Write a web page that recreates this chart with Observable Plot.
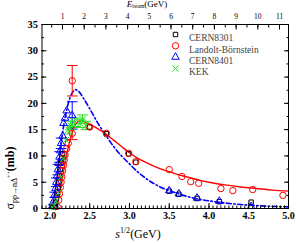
<!DOCTYPE html>
<html><head><meta charset="utf-8">
<script src="https://cdn.jsdelivr.net/npm/d3@7"></script>
<script src="https://cdn.jsdelivr.net/npm/@observablehq/plot@0.6"></script>
<style>
body{margin:0;background:#fff;}
#chart{width:296px;height:243px;overflow:hidden;}
</style>
</head><body><div id="chart"></div>
<script>
// ---- data (sqrt(s) in GeV, sigma in mb, optional error) ----
const cern8301 = [[2.06,0.3],[2.07,1.0],[2.08,2.0],[2.09,3.0],[2.10,4.0],[2.11,5.0],[2.12,6.2],[2.13,7.4],[2.14,8.6],[2.15,9.6],[2.16,10.4],[2.50,15.5],[2.71,14.2],[2.99,10.4],[3.08,8.8],[3.50,3.3],[3.62,2.7],[3.85,1.9],[4.13,1.3],[4.53,1.2]];
const landolt = [[2.09,0.4],[2.11,1.6],[2.12,2.8],[2.13,4.0],[2.14,5.0],[2.15,6.0],[2.16,7.2],[2.17,8.2],[2.18,9.2],[2.19,10.2],[2.21,11.4],[2.23,12.4],[2.28,14.3,1.2],[2.28,24.3,2.9],[2.50,15.5],[2.71,14.3],[2.99,10.5],[3.08,8.9],[3.50,7.4],[3.66,6.1],[3.77,5.1],[3.87,4.8],[4.15,3.8],[4.30,3.4],[4.55,3.6],[4.93,2.5]];
const cern8401 = [[2.04,0.4,0.3],[2.05,1.5],[2.06,2.6,0.5],[2.07,3.8],[2.08,5.0,0.8],[2.09,6.2],[2.10,7.4,1],[2.11,8.6],[2.12,9.8,1],[2.13,11.0],[2.14,12.4,1],[2.16,13.8],[2.17,16.2],[2.19,17.2],[2.21,18.6],[2.28,17.7,2.6],[3.50,3.4],[3.62,2.8],[3.85,2.0],[4.13,1.4],[4.53,0.4]];
const kek = [[2.03,0.2],[2.05,0.6],[2.08,1.4],[2.11,3.0],[2.14,6.0],[2.17,9.5],[2.20,13.0],[2.23,15.0,0.8],[2.26,15.8,0.8],[2.31,16.4,0.8],[2.38,16.2,0.8],[2.41,17.0,0.8],[2.45,15.8,0.8]];
// model curves
const redCurve = [[2.08,0],[2.12,2.5],[2.16,6.0],[2.20,9.5],[2.24,12.3],[2.28,14.5],[2.32,16.0],[2.36,16.6],[2.42,16.6],[2.50,16.0],[2.60,15.2],[2.70,14.2],[2.80,13.0],[2.90,11.8],[3.00,10.6],[3.10,9.6],[3.20,8.8],[3.30,8.1],[3.40,7.5],[3.50,7.0],[3.60,6.5],[3.70,6.1],[3.80,5.7],[3.90,5.3],[4.00,5.0],[4.20,4.5],[4.40,4.1],[4.60,3.8],[4.80,3.5],[5.00,3.3]];
const blueCurve = [[2.02,0],[2.05,2.0],[2.08,5.0],[2.11,9.0],[2.14,12.5],[2.17,15.5],[2.20,18.0],[2.24,20.5],[2.28,22.0],[2.32,22.6],[2.36,22.3],[2.42,21.0],[2.50,19.0],[2.60,16.3],[2.70,14.0],[2.80,11.8],[2.90,10.0],[3.00,8.5],[3.10,7.0],[3.20,5.8],[3.30,4.8],[3.40,4.0],[3.50,3.4],[3.60,2.9],[3.70,2.4],[3.80,2.0],[3.90,1.7],[4.00,1.45],[4.20,1.05],[4.40,0.75],[4.60,0.55],[4.80,0.4],[5.00,0.3]];
// axes
const xDomain = [1.9, 5.0];
const yDomain = [0, 35];
const xMajor = [2.0,2.5,3.0,3.5,4.0,4.5,5.0];
const yMajor = [0,5,10,15,20,25,30,35];
const eMajor = [1,2,3,4,5,6,7,8,9,10,11];
const eBeamAtSqrtS = [[1,2.158],[11,4.887]]; // top-axis alignment
const legendNames = ["CERN8301","Landolt-Börnstein","CERN8401","KEK"];

const toObj = a => a.map(([x,y,e]) => ({x, y, e}));
const S = {cern8301: toObj(cern8301), landolt: toObj(landolt), cern8401: toObj(cern8401), kek: toObj(kek)};
const red = "#ff0000", blue = "#0000ff", green = "#22dd22", black = "#000000";
const eToS = d3.scaleLinear(eBeamAtSqrtS.map(d=>d[0]), eBeamAtSqrtS.map(d=>d[1]));
const xMinor = d3.range(1.9, 5.0001, 0.05).map(v => +v.toFixed(2));
const yMinor = d3.range(0, 35.01, 2.5);
const eMinor = d3.range(0.5, 11.01, 0.5).filter(v => eToS(v) > 1.9 && eToS(v) < 5.0).map(eToS);

const cap = {draw(ctx, size){ const w = Math.sqrt(size); ctx.moveTo(-w,0); ctx.lineTo(w,0); }};

function errMarks(data, color){
  const d = data.filter(p => p.e);
  return [
    Plot.ruleX(d, {x:"x", y1: p => p.y - p.e, y2: p => p.y + p.e, stroke: color, strokeWidth: 1}),
    Plot.dot(d, {x:"x", y: p => p.y + p.e, symbol: cap, r: 3, stroke: color, strokeWidth: 1}),
    Plot.dot(d, {x:"x", y: p => p.y - p.e, symbol: cap, r: 3, stroke: color, strokeWidth: 1})
  ];
}
const styles = [
  {key:"cern8301", symbol:"square", color:black, r:2.5},
  {key:"landolt", symbol:"circle", color:red, r:3.2},
  {key:"cern8401", symbol:"triangle", color:blue, r:2.8},
  {key:"kek", symbol:"times", color:green, r:3.0}
];

const legendMarks = styles.flatMap((s, i) => [
  Plot.dot([0], {frameAnchor:"top-left", dx:133.5, dy:10 + i*11.3, symbol:s.symbol, r:s.r, stroke:s.color, fill:"none", strokeWidth:1}),
  Plot.text([legendNames[i]], {frameAnchor:"top-left", dx:147, dy:10 + i*11.3, text:d=>d, textAnchor:"start", fill:"#444", fontSize:9.5, fontFamily:"Liberation Serif"})
]);

const plot = Plot.plot({
  width: 296, height: 243,
  marginLeft: 41.5, marginRight: 8, marginTop: 24, marginBottom: 35,
  x: {domain: xDomain},
  y: {domain: yDomain},
  style: {fontFamily: "Liberation Serif", fontSize: "10px", background: "white", color: "black"},
  marks: [
    Plot.line(toObj(blueCurve), {x:"x", y:"y", stroke: blue, strokeWidth: 1.6, strokeDasharray: "5,2.5,1.5,2.5", curve: "catmull-rom"}),
    Plot.line(toObj(redCurve), {x:"x", y:"y", stroke: red, strokeWidth: 1.4, curve: "catmull-rom"}),
    ...styles.flatMap(s => errMarks(S[s.key], s.color)),
    ...styles.map(s => Plot.dot(S[s.key], {x:"x", y:"y", symbol: s.symbol, r: s.r, stroke: s.color, fill: "none", strokeWidth: 1})),
    Plot.frame({stroke: "black", strokeWidth: 1}),
    Plot.axisX({anchor:"bottom", ticks: xMinor, tickSize: -2.5, tickFormat: () => "", label: null}),
    Plot.axisX({anchor:"bottom", ticks: xMajor, tickSize: -5, tickPadding: 8, tickFormat: d3.format(".1f"), fontWeight: "bold", fontSize: 10, label: null}),
    Plot.axisX({anchor:"top", ticks: eMinor, tickSize: -2.5, tickFormat: () => "", label: null}),
    Plot.axisX({anchor:"top", ticks: eMajor.map(eToS), tickSize: -4.5, tickPadding: 10.5, tickFormat: s => String(Math.round(eToS.invert(s))), fontSize: 7.5, label: null}),
    Plot.axisY({anchor:"left", ticks: yMinor, tickSize: -2.5, tickFormat: () => "", label: null}),
    Plot.axisY({anchor:"left", ticks: yMajor, tickSize: -5, tickPadding: 9, fontWeight: "bold", fontSize: 10.5, label: null}),
    Plot.axisY({anchor:"right", ticks: yMinor, tickSize: -2.5, tickFormat: () => "", label: null}),
    Plot.axisY({anchor:"right", ticks: yMajor, tickSize: -5, tickFormat: () => "", label: null}),
    ...legendMarks
  ]
});
document.getElementById("chart").appendChild(plot);

// axis titles with sub/superscripts
const svg = d3.select(plot);
const xt = svg.append("text").attr("x", 138).attr("y", 238).attr("font-family", "Liberation Serif").attr("font-size", 12).attr("fill", "black");
xt.append("tspan").attr("font-style", "italic").text("s");
xt.append("tspan").attr("font-size", 8).attr("dy", -5).text("1/2");
xt.append("tspan").attr("dy", 5).text("(GeV)");

const tt = svg.append("text").attr("x", 147).attr("y", 6.5).attr("font-family", "Liberation Serif").attr("font-size", 9).attr("fill", "black");
tt.append("tspan").attr("font-style", "italic").text("E");
tt.append("tspan").attr("font-size", 5.5).attr("dy", 1.5).text("beam");
tt.append("tspan").attr("dy", -1.5).text("(GeV)");

const yt = svg.append("text").attr("transform", "translate(14,178) rotate(-90)").attr("font-family", "Liberation Serif").attr("font-size", 12).attr("fill", "black");
yt.append("tspan").text("σ");
yt.append("tspan").attr("font-size", 8).attr("dy", 3).text("pp→nΔ");
yt.append("tspan").attr("font-size", 6).attr("dy", -6).text("++");
yt.append("tspan").attr("dy", 3).attr("font-weight", "bold").text("(mb)");
</script>
</body></html>
